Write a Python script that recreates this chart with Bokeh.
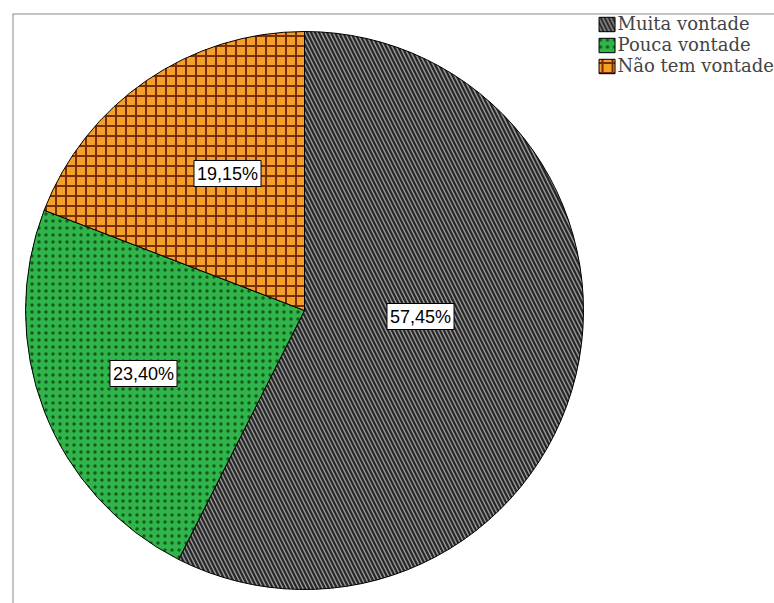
import math
from bokeh.plotting import figure
from bokeh.models import Range1d, Span, Label, Legend, LegendItem, ColumnDataSource
from bokeh.embed import file_html
from bokeh.resources import INLINE

categories = ["Muita vontade", "Pouca vontade", "Não tem vontade"]
values = [57.45, 23.40, 19.15]
colors = ["#9a9a9a", "#2fb54a", "#f2a02a"]
hatch_patterns = ["\\", ".", "+"]
hatch_colors = ["#262626", "#145a20", "#7a2e05"]
hatch_scales = [8, 7, 10]
hatch_weights = [2.2, 2, 2.0]
label_texts = ["57,45%", "23,40%", "19,15%"]
# label anchors relative to pie centre (px, y up)
label_dx = [116, -161, -77]
label_dy = [-6, -63, 137]

W, H = 774, 603
left, top = 12, 13
cx_px, cy_px = 304, 310
R = 279

p = figure(width=W, height=H, output_backend="svg", toolbar_location=None,
           min_border_left=left, min_border_top=top, min_border_right=0, min_border_bottom=0,
           x_range=Range1d(left - cx_px, W - cx_px), y_range=Range1d(-(H - cy_px), cy_px - top))
p.axis.visible = False
p.grid.visible = False
p.outline_line_color = None
p.background_fill_color = "white"
p.border_fill_color = "white"

total = sum(values)
starts, ends = [], []
a = math.pi / 2
for v in values:
    b = a - v / total * 2 * math.pi
    starts.append(b)
    ends.append(a)
    a = b

items = []
for i, cat in enumerate(categories):
    src = ColumnDataSource(dict(x=[0], y=[0], s=[starts[i]], e=[ends[i]]))
    r = p.wedge(x="x", y="y", radius=R, radius_units="screen", start_angle="s", end_angle="e",
                source=src, fill_color=colors[i], line_color="black", line_width=1,
                hatch_pattern=hatch_patterns[i], hatch_color=hatch_colors[i],
                hatch_scale=hatch_scales[i], hatch_weight=hatch_weights[i])
    items.append(LegendItem(label=cat, renderers=[r]))

for i, t in enumerate(label_texts):
    p.add_layout(Label(x=label_dx[i], y=label_dy[i], text=t, text_align="center",
                       text_baseline="middle", text_font="Liberation Sans",
                       text_font_size="18px", text_color="black",
                       background_fill_color="white", border_line_color="black",
                       border_line_width=1, padding=3))

p.add_layout(Span(location=cy_px - top, dimension="width", line_color="#8a8a8a", line_width=2))
p.add_layout(Span(location=left - cx_px, dimension="height", line_color="#8a8a8a", line_width=2))

legend = Legend(items=items, location="top_right", margin=0, padding=0,
                glyph_width=20, glyph_height=18, label_height=17, spacing=0,
                label_standoff=1, label_text_font="DejaVu Serif", label_text_font_size="18px",
                border_line_color=None, background_fill_alpha=0)
p.add_layout(legend)

open("out.html", "w").write(file_html(p, INLINE))
